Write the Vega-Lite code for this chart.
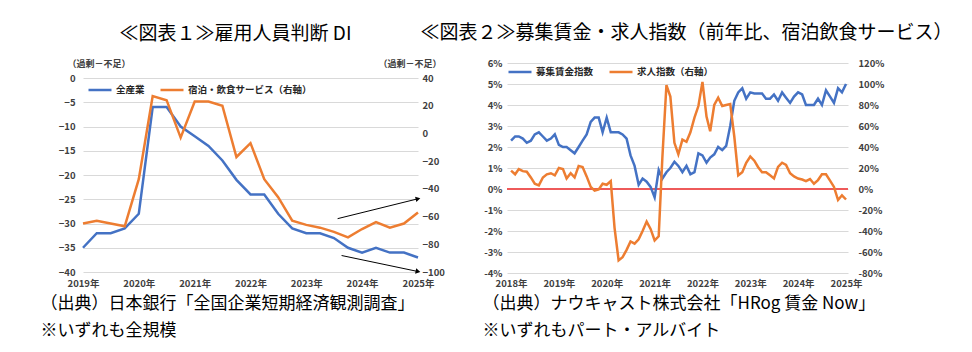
{
  "$schema": "https://vega.github.io/schema/vega-lite/v6.json",
  "padding": {"left": 40, "top": 24, "right": 5, "bottom": 5},
  "background": "white",
  "bounds": "flush",
  "spacing": 89,
  "config": {
    "font": "Noto Sans CJK JP",
    "view": {"stroke": null},
    "axis": {"domain": false, "ticks": false, "labelFont": "Noto Sans CJK JP", "labelFontSize": 9.5, "labelFontWeight": "bold", "labelColor": "#404040", "labelOverlap": false, "titleFont": "Noto Sans CJK JP", "gridColor": "#d9d9d9", "gridWidth": 1},
    "legend": {"labelFont": "Noto Sans CJK JP", "labelFontSize": 9.5, "labelFontWeight": "bold", "labelColor": "#262626"},
    "title": {"font": "Noto Sans CJK JP", "fontSize": 19, "fontWeight": "normal", "color": "#000000", "frame": "group", "anchor": "middle", "offset": 15}
  },
  "datasets": {
    "tankan": [
      {"d": "2019-01", "all": -35, "hosp": -65},
      {"d": "2019-04", "all": -32, "hosp": -63},
      {"d": "2019-07", "all": -32, "hosp": -65},
      {"d": "2019-10", "all": -31, "hosp": -67},
      {"d": "2020-01", "all": -28, "hosp": -33},
      {"d": "2020-04", "all": -6, "hosp": 27},
      {"d": "2020-07", "all": -6, "hosp": 24},
      {"d": "2020-10", "all": -10, "hosp": -3},
      {"d": "2021-01", "all": -12, "hosp": 23},
      {"d": "2021-04", "all": -14, "hosp": 23},
      {"d": "2021-07", "all": -17, "hosp": 20},
      {"d": "2021-10", "all": -21, "hosp": -17},
      {"d": "2022-01", "all": -24, "hosp": -7},
      {"d": "2022-04", "all": -24, "hosp": -33},
      {"d": "2022-07", "all": -28, "hosp": -46},
      {"d": "2022-10", "all": -31, "hosp": -63},
      {"d": "2023-01", "all": -32, "hosp": -66},
      {"d": "2023-04", "all": -32, "hosp": -68},
      {"d": "2023-07", "all": -33, "hosp": -71},
      {"d": "2023-10", "all": -35, "hosp": -75},
      {"d": "2024-01", "all": -36, "hosp": -69},
      {"d": "2024-04", "all": -35, "hosp": -64},
      {"d": "2024-07", "all": -36, "hosp": -68},
      {"d": "2024-10", "all": -36, "hosp": -65},
      {"d": "2025-01", "all": -37, "hosp": -57}
    ],
    "hrog": [
      {"d": "2018-01", "w": 2.3, "j": 17.5},
      {"d": "2018-02", "w": 2.5, "j": 14},
      {"d": "2018-03", "w": 2.5, "j": 19},
      {"d": "2018-04", "w": 2.4, "j": 17},
      {"d": "2018-05", "w": 2.2, "j": 16.5},
      {"d": "2018-06", "w": 2.3, "j": 11},
      {"d": "2018-07", "w": 2.6, "j": 5},
      {"d": "2018-08", "w": 2.7, "j": 3.5},
      {"d": "2018-09", "w": 2.5, "j": 11},
      {"d": "2018-10", "w": 2.3, "j": 14},
      {"d": "2018-11", "w": 2.4, "j": 15},
      {"d": "2018-12", "w": 2.6, "j": 13},
      {"d": "2019-01", "w": 2.1, "j": 20},
      {"d": "2019-02", "w": 2.0, "j": 19},
      {"d": "2019-03", "w": 2.0, "j": 10},
      {"d": "2019-04", "w": 1.85, "j": 15},
      {"d": "2019-05", "w": 1.7, "j": 11},
      {"d": "2019-06", "w": 2.0, "j": 22},
      {"d": "2019-07", "w": 2.3, "j": 21},
      {"d": "2019-08", "w": 2.6, "j": 12},
      {"d": "2019-09", "w": 3.2, "j": 2},
      {"d": "2019-10", "w": 3.4, "j": -1.5},
      {"d": "2019-11", "w": 3.4, "j": -0.5},
      {"d": "2019-12", "w": 2.7, "j": 5},
      {"d": "2020-01", "w": 3.4, "j": 4},
      {"d": "2020-02", "w": 2.7, "j": 7.5},
      {"d": "2020-03", "w": 2.7, "j": -37},
      {"d": "2020-04", "w": 2.7, "j": -68},
      {"d": "2020-05", "w": 2.6, "j": -65},
      {"d": "2020-06", "w": 2.4, "j": -58},
      {"d": "2020-07", "w": 1.6, "j": -50},
      {"d": "2020-08", "w": 1.1, "j": -52},
      {"d": "2020-09", "w": 0.2, "j": -48},
      {"d": "2020-10", "w": 0.5, "j": -40},
      {"d": "2020-11", "w": 0.35, "j": -31},
      {"d": "2020-12", "w": 0.1, "j": -38},
      {"d": "2021-01", "w": -0.4, "j": -49},
      {"d": "2021-02", "w": 0.9, "j": -45},
      {"d": "2021-03", "w": 0.5, "j": 30},
      {"d": "2021-04", "w": 0.8, "j": 99},
      {"d": "2021-05", "w": 1.0, "j": 88},
      {"d": "2021-06", "w": 1.3, "j": 44},
      {"d": "2021-07", "w": 1.1, "j": 33},
      {"d": "2021-08", "w": 0.8, "j": 47},
      {"d": "2021-09", "w": 1.1, "j": 45},
      {"d": "2021-10", "w": 0.7, "j": 54},
      {"d": "2021-11", "w": 0.8, "j": 68},
      {"d": "2021-12", "w": 1.7, "j": 79},
      {"d": "2022-01", "w": 1.6, "j": 102},
      {"d": "2022-02", "w": 1.25, "j": 69},
      {"d": "2022-03", "w": 1.5, "j": 55},
      {"d": "2022-04", "w": 1.65, "j": 80},
      {"d": "2022-05", "w": 2.0, "j": 87},
      {"d": "2022-06", "w": 1.85, "j": 79},
      {"d": "2022-07", "w": 2.05, "j": 80},
      {"d": "2022-08", "w": 3.0, "j": 81},
      {"d": "2022-09", "w": 4.2, "j": 50},
      {"d": "2022-10", "w": 4.6, "j": 13},
      {"d": "2022-11", "w": 4.8, "j": 16},
      {"d": "2022-12", "w": 4.3, "j": 25},
      {"d": "2023-01", "w": 4.6, "j": 31},
      {"d": "2023-02", "w": 4.55, "j": 27},
      {"d": "2023-03", "w": 4.55, "j": 21},
      {"d": "2023-04", "w": 4.55, "j": 16},
      {"d": "2023-05", "w": 4.3, "j": 16},
      {"d": "2023-06", "w": 4.3, "j": 13},
      {"d": "2023-07", "w": 4.5, "j": 10},
      {"d": "2023-08", "w": 4.2, "j": 21},
      {"d": "2023-09", "w": 4.6, "j": 25},
      {"d": "2023-10", "w": 4.35, "j": 23},
      {"d": "2023-11", "w": 4.1, "j": 15},
      {"d": "2023-12", "w": 4.4, "j": 12},
      {"d": "2024-01", "w": 4.6, "j": 10},
      {"d": "2024-02", "w": 4.5, "j": 9},
      {"d": "2024-03", "w": 4.0, "j": 7.5},
      {"d": "2024-04", "w": 4.0, "j": 9.5},
      {"d": "2024-05", "w": 4.0, "j": 5},
      {"d": "2024-06", "w": 4.3, "j": 8.5},
      {"d": "2024-07", "w": 4.0, "j": 14},
      {"d": "2024-08", "w": 4.7, "j": 14},
      {"d": "2024-09", "w": 4.4, "j": 8},
      {"d": "2024-10", "w": 4.1, "j": 2},
      {"d": "2024-11", "w": 4.8, "j": -10.5},
      {"d": "2024-12", "w": 4.6, "j": -6},
      {"d": "2025-01", "w": 5.0, "j": -10}
    ]
  },
  "resolve": {"scale": {"color": "independent", "x": "independent", "y": "independent"}, "legend": {"color": "independent"}},
  "hconcat": [
    {
      "width": 335,
      "height": 210,
      "title": {"text": "≪図表１≫雇用人員判断 DI", "dx": -15},
      "data": {"name": "tankan"},
      "resolve": {"scale": {"y": "independent"}},
      "layer": [
        {
          "mark": {"type": "line", "strokeWidth": 2.5},
          "encoding": {
            "x": {
              "field": "d", "type": "temporal",
              "scale": {"type": "utc", "nice": false, "domain": [{"year": 2019, "month": 1, "date": 1, "utc": true}, {"year": 2025, "month": 1, "date": 1, "utc": true}]},
              "axis": {
                "values": [{"year": 2019, "month": 1, "date": 1, "utc": true}, {"year": 2020, "month": 1, "date": 1, "utc": true}, {"year": 2021, "month": 1, "date": 1, "utc": true}, {"year": 2022, "month": 1, "date": 1, "utc": true}, {"year": 2023, "month": 1, "date": 1, "utc": true}, {"year": 2024, "month": 1, "date": 1, "utc": true}, {"year": 2025, "month": 1, "date": 1, "utc": true}],
                "format": "%Y年", "labelFlush": false, "labelPadding": 5.5, "grid": false,
                "title": ["（出典）日本銀行「全国企業短期経済観測調査」", "※いずれも全規模"],
                "titleFontSize": 17, "titleFontWeight": "normal", "titleColor": "#000000", "titleAlign": "left", "titleAnchor": "start", "titleBaseline": "top", "titleLineHeight": 27, "titleX": -43, "titleY": 22
              }
            },
            "y": {
              "field": "all", "type": "quantitative",
              "scale": {"domain": [-40.206, 3.093], "nice": false, "zero": false},
              "axis": {"orient": "left", "values": [-40, -35, -30, -25, -20, -15, -10, -5, 0], "grid": true, "labelPadding": 8, "title": "（過剰－不足）", "titleFontSize": 9, "titleFontWeight": "bold", "titleColor": "#404040", "titleAngle": 0, "titleAlign": "left", "titleBaseline": "middle", "titleX": -16, "titleY": 0}
            },
            "color": {
              "datum": "全産業",
              "scale": {"domain": ["全産業", "宿泊・飲食サービス（右軸）"], "range": ["#4472c4", "#ed7d31"]},
              "legend": {"orient": "none", "legendX": 4, "legendY": 14, "direction": "horizontal", "title": null, "symbolType": "stroke", "symbolStrokeWidth": 2.5, "symbolSize": 529, "columnPadding": 10, "labelOffset": 3}
            }
          }
        },
        {
          "mark": {"type": "line", "strokeWidth": 2.5},
          "encoding": {
            "x": {"field": "d", "type": "temporal"},
            "y": {
              "field": "hosp", "type": "quantitative",
              "scale": {"domain": [-100.72, 50.83], "nice": false, "zero": false},
              "axis": {"orient": "right", "values": [-100, -80, -60, -40, -20, 0, 20, 40], "grid": false, "labelPadding": 4, "title": "（過剰－不足）", "titleFontSize": 9, "titleFontWeight": "bold", "titleColor": "#404040", "titleAngle": 0, "titleAlign": "left", "titleBaseline": "middle", "titleX": -40, "titleY": 0}
            },
            "color": {"datum": "宿泊・飲食サービス（右軸）"}
          }
        },
        {
          "data": {"values": [{"x": "2023-07-25", "y": -29.0, "x2": "2025-01-01", "y2": -24.9}, {"x": "2023-08-20", "y": -36.6, "x2": "2025-01-01", "y2": -39.9}]},
          "mark": {"type": "rule", "color": "#000000", "strokeWidth": 1},
          "encoding": {
            "x": {"field": "x", "type": "temporal"},
            "y": {"field": "y", "type": "quantitative", "scale": {"domain": [-40.206, 3.093], "nice": false, "zero": false}, "axis": null},
            "x2": {"field": "x2"},
            "y2": {"field": "y2"}
          }
        },
        {
          "data": {"values": [{"x2": "2025-01-01", "y2": -24.9}]},
          "mark": {"type": "point", "shape": "triangle-right", "filled": true, "color": "#000000", "opacity": 1, "size": 30, "angle": -14},
          "encoding": {
            "x": {"field": "x2", "type": "temporal"},
            "y": {"field": "y2", "type": "quantitative", "scale": {"domain": [-40.206, 3.093], "nice": false, "zero": false}, "axis": null}
          }
        },
        {
          "data": {"values": [{"x2": "2025-01-01", "y2": -39.9}]},
          "mark": {"type": "point", "shape": "triangle-right", "filled": true, "color": "#000000", "opacity": 1, "size": 30, "angle": 12},
          "encoding": {
            "x": {"field": "x2", "type": "temporal"},
            "y": {"field": "y2", "type": "quantitative", "scale": {"domain": [-40.206, 3.093], "nice": false, "zero": false}, "axis": null}
          }
        }
      ]
    },
    {
      "width": 341,
      "height": 210,
      "title": {"text": "≪図表２≫募集賃金・求人指数（前年比、宿泊飲食サービス）", "dx": 9},
      "data": {"name": "hrog"},
      "resolve": {"scale": {"y": "independent"}},
      "layer": [
        {
          "data": {"values": [{"z": 0}]},
          "mark": {"type": "rule", "color": "#ee5a5a", "strokeWidth": 2},
          "encoding": {"y": {"field": "z", "type": "quantitative", "scale": {"domain": [-4, 6], "nice": false, "zero": false}, "axis": null}}
        },
        {
          "mark": {"type": "line", "strokeWidth": 2.5},
          "encoding": {
            "x": {
              "field": "d", "type": "temporal",
              "scale": {"type": "utc", "nice": false, "domain": [{"year": 2017, "month": 12, "date": 1, "utc": true}, {"year": 2025, "month": 1, "date": 16, "utc": true}]},
              "axis": {
                "values": [{"year": 2018, "month": 1, "date": 1, "utc": true}, {"year": 2019, "month": 1, "date": 1, "utc": true}, {"year": 2020, "month": 1, "date": 1, "utc": true}, {"year": 2021, "month": 1, "date": 1, "utc": true}, {"year": 2022, "month": 1, "date": 1, "utc": true}, {"year": 2023, "month": 1, "date": 1, "utc": true}, {"year": 2024, "month": 1, "date": 1, "utc": true}, {"year": 2025, "month": 1, "date": 1, "utc": true}],
                "format": "%Y年", "labelFlush": false, "labelPadding": 5.5, "grid": false,
                "title": ["（出典）ナウキャスト株式会社「HRog 賃金 Now」", "※いずれもパート・アルバイト"],
                "titleFontSize": 17, "titleFontWeight": "normal", "titleColor": "#000000", "titleAlign": "left", "titleAnchor": "start", "titleBaseline": "top", "titleLineHeight": 27, "titleX": -25, "titleY": 22
              }
            },
            "y": {
              "field": "w", "type": "quantitative",
              "scale": {"domain": [-4, 6], "nice": false, "zero": false},
              "axis": {"orient": "left", "values": [-4, -3, -2, -1, 0, 1, 2, 3, 4, 5, 6], "labelExpr": "datum.value + '%'", "grid": true, "labelPadding": 5, "title": null}
            },
            "color": {
              "datum": "募集賃金指数",
              "scale": {"domain": ["募集賃金指数", "求人指数（右軸）"], "range": ["#4472c4", "#ed7d31"]},
              "legend": {"orient": "none", "legendX": 0, "legendY": -4, "direction": "horizontal", "title": null, "symbolType": "stroke", "symbolStrokeWidth": 2.5, "symbolSize": 529, "columnPadding": 10, "labelOffset": 3}
            }
          }
        },
        {
          "mark": {"type": "line", "strokeWidth": 2.5},
          "encoding": {
            "x": {"field": "d", "type": "temporal"},
            "y": {
              "field": "j", "type": "quantitative",
              "scale": {"domain": [-80, 120], "nice": false, "zero": false},
              "axis": {"orient": "right", "values": [-80, -60, -40, -20, 0, 20, 40, 60, 80, 100, 120], "labelExpr": "datum.value + '%'", "grid": false, "labelPadding": 10, "title": null}
            },
            "color": {"datum": "求人指数（右軸）"}
          }
        }
      ]
    }
  ]
}
